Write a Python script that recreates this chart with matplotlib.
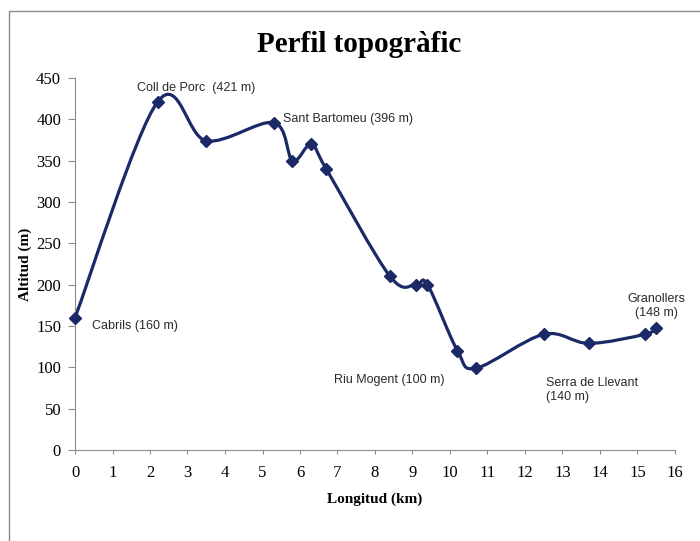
import numpy as np
import matplotlib.pyplot as plt
from matplotlib.path import Path
from matplotlib.patches import PathPatch, Rectangle

# distance (km) and altitude (m) of the profile points
dist = [0, 2.2, 3.5, 5.3, 5.8, 6.3, 6.7, 8.4, 9.1, 9.4, 10.2, 10.7, 12.5, 13.7, 15.2, 15.5]
alt = [160, 421, 374, 396, 350, 370, 340, 210, 200, 200, 120, 99, 140, 129, 140, 148]

labels = ["Coll de Porc  (421 m)", "Sant Bartomeu (396 m)", "Cabrils (160 m)",
          "Riu Mogent (100 m)", "Serra de Llevant\n(140 m)", "Granollers\n(148 m)"]
label_x = [1.65, 5.55, 0.45, 6.9, 12.55, 15.5]
label_y = [438, 401, 150, 85, 73, 174]
label_ha = ["left", "left", "left", "left", "left", "center"]

serif = "Liberation Serif"
sans = "Liberation Sans"
navy = "#1b2a66"

fig = plt.figure(figsize=(7, 5.41), dpi=100)
fig.patches.append(Rectangle((9/700, -0.1), 1.2, 1 - 11/541 + 0.1, transform=fig.transFigure,
                             fill=False, edgecolor="#8c8c8c", lw=1))
ax = fig.add_axes([75/700, 1 - 450/541, 600/700, 372/541])

# smooth line like excel: cubic bezier with catmull-rom style tangents
P = np.column_stack([dist, alt]).astype(float)
verts = [P[0]]
codes = [Path.MOVETO]
for i in range(len(P) - 1):
    p0 = P[i - 1] if i > 0 else P[i]
    p3 = P[i + 2] if i + 2 < len(P) else P[i + 1]
    c1 = P[i] + (P[i + 1] - p0) / 6
    c2 = P[i + 1] - (p3 - P[i]) / 6
    verts += [c1, c2, P[i + 1]]
    codes += [Path.CURVE4] * 3
ax.add_patch(PathPatch(Path(verts, codes), fill=False, edgecolor=navy, lw=2.3, capstyle="round"))
ax.plot(dist, alt, ls="none", marker="D", ms=6, color=navy, zorder=3, clip_on=False)

for t, x, y, ha in zip(labels, label_x, label_y, label_ha):
    ax.text(x, y, t, ha=ha, va="center", fontsize=9, family=sans, color="#2a2a2a", linespacing=1.25)

ax.set_xlim(0, 16)
ax.set_ylim(0, 450)
ax.set_xticks(range(0, 17))
ax.set_yticks(range(0, 451, 50))
for s in ["top", "right"]:
    ax.spines[s].set_visible(False)
for s in ["left", "bottom"]:
    ax.spines[s].set_color("#8c8c8c")
ax.tick_params(colors="#8c8c8c", labelcolor="black", length=4, direction="out")
for lab in ax.get_xticklabels() + ax.get_yticklabels():
    lab.set_family(serif)
    lab.set_fontsize(12)
ax.tick_params(axis="x", pad=8, length=3)
ax.tick_params(axis="y", pad=5, length=5)

ax.set_xlabel("Longitud (km)", family=serif, fontweight="bold", fontsize=11, labelpad=8)
ax.set_ylabel("Altitud (m)", family=serif, fontweight="bold", fontsize=11, labelpad=3)
fig.text(359/700, 1 - 45/541, "Perfil topogràfic", family=serif, fontweight="bold",
         fontsize=21, ha="center", va="center")

fig.savefig("out.png", dpi=100)
